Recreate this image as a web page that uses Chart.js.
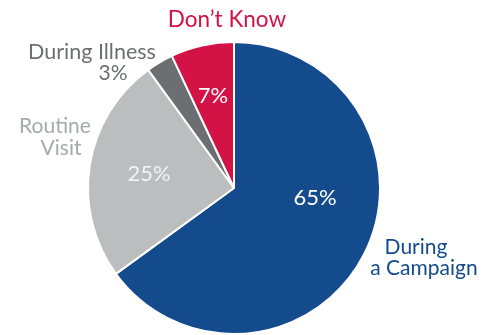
<!DOCTYPE html>
<html>
<head>
<meta charset="utf-8">
<script src="https://cdn.jsdelivr.net/npm/chart.js@4"></script>
<style>
  html, body { margin: 0; padding: 0; background: #fff; }
  #wrap { width: 497px; height: 335px; position: relative; }
</style>
</head>
<body>
<div id="wrap"><canvas id="chart-pie"></canvas></div>
<script>
// Data
const CATEGORIES = ["During a Campaign", "Routine Visit", "During Illness", "Don't Know"];
const VALUES = [65, 25, 3, 7];
const SLICE_COLORS = ["#134b8c", "#bcbdbf", "#6d6e71", "#d31245"];

// Text labels, offsets from the pie centre
const LABELS = [
	{ text: "Don\u2019t Know", dx: -7, dy: -168, color: "#d31245", size: 22.5 },
	{ text: "During Illness", dx: -142, dy: -136, color: "#6d6e71", size: 21.5 },
	{ text: "3%", dx: -121, dy: -115, color: "#6d6e71", size: 21 },
	{ text: "Routine", dx: -179, dy: -62, color: "#a7a9ac", size: 21 },
	{ text: "Visit", dx: -173, dy: -40, color: "#a7a9ac", size: 21 },
	{ text: "During", dx: 182, dy: 59, color: "#134b8c", size: 21 },
	{ text: "a Campaign", dx: 190, dy: 80, color: "#134b8c", size: 21 },
	{ text: "7%", dx: -21, dy: -92, color: "#ffffff", size: 22 },
	{ text: "25%", dx: -85, dy: -14, color: "#f2f2f2", size: 22 },
	{ text: "65%", dx: 81, dy: 10, color: "#ffffff", size: 22 },
];

const FONT = "Lato, 'Open Sans', sans-serif";

// Plugin that writes the labels
const textLabels = {
	id: "textLabels",
	afterDatasetsDraw(chart) {
		const { ctx } = chart;
		const arc = chart.getDatasetMeta(0).data[0];
		const cx = arc.x;
		const cy = arc.y;
		ctx.save();
		ctx.textAlign = "center";
		ctx.textBaseline = "middle";
		LABELS.forEach((l) => {
			ctx.font = `${l.size}px ${FONT}`;
			ctx.fillStyle = l.color;
			ctx.fillText(l.text, cx + l.dx, cy + l.dy);
		});
		ctx.restore();
	},
};

const CHART_CONFIG = {
	type: "pie",
	data: {
		labels: CATEGORIES,
		datasets: [
			{
				data: VALUES,
				backgroundColor: SLICE_COLORS,
				borderColor: "#ffffff",
				borderWidth: 2,
				hoverOffset: 0,
			},
		],
	},
	options: {
		responsive: true,
		maintainAspectRatio: false,
		animation: false,
		layout: {
			padding: { top: 41, bottom: 0, left: 87, right: 116 },
		},
		plugins: {
			legend: { display: false },
			tooltip: { enabled: false },
		},
	},
	plugins: [textLabels],
};

new Chart(document.getElementById("chart-pie"), CHART_CONFIG);
</script>
</body>
</html>
